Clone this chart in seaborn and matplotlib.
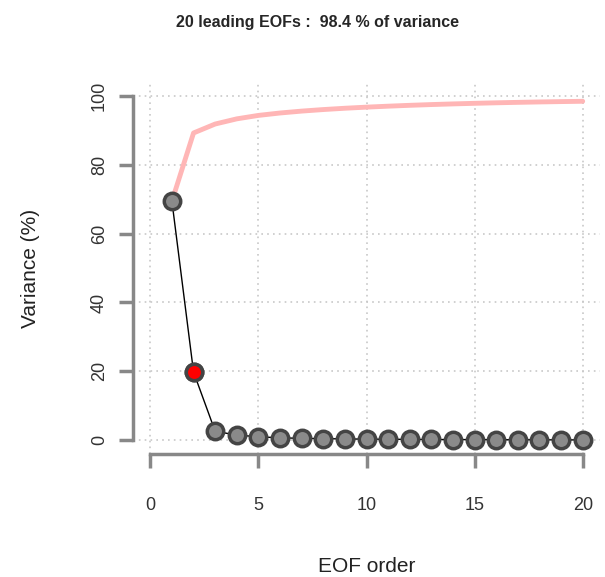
import numpy as np
import pandas as pd
import matplotlib
matplotlib.use('Agg')
import matplotlib.pyplot as plt
import seaborn as sns

# EOF explained variance (%)
eof_order = list(range(1, 21))
variance = [69.4, 19.8, 2.6, 1.5, 1.0, 0.7, 0.55, 0.45, 0.38, 0.32,
            0.28, 0.25, 0.22, 0.19, 0.17, 0.15, 0.13, 0.12, 0.10, 0.09]
highlight = 2
title = '20 leading EOFs :  98.4 % of variance'

df = pd.DataFrame({'eof': eof_order, 'var': variance})
df['cum'] = df['var'].cumsum()

sns.set_style('white')
plt.rcParams['font.family'] = ['Liberation Sans', 'DejaVu Sans']

fig = plt.figure(figsize=(6.05, 5.77), dpi=100)
ax = fig.add_axes([133/605, 1 - 454/577, (600 - 133)/605, (454 - 82)/577])

# grid
for gx in [0, 5, 10, 15, 20]:
    ax.axvline(gx, color='#c8c8c8', lw=1.2, ls=(0, (1, 2.5)), zorder=0)
for gy in [0, 20, 40, 60, 80, 100]:
    ax.axhline(gy, color='#c8c8c8', lw=1.2, ls=(0, (1, 2.5)), zorder=0)

# cumulative variance
sns.lineplot(data=df, x='eof', y='cum', ax=ax, color='#ffb6b6', lw=3.5, zorder=2)
# explained variance
sns.lineplot(data=df, x='eof', y='var', ax=ax, color='black', lw=1, zorder=3)
sns.scatterplot(data=df, x='eof', y='var', ax=ax, s=140, color='#8a8a8a',
                edgecolor='#444444', linewidth=2.5, zorder=4)
sub = df[df['eof'] == highlight]
sns.scatterplot(data=sub, x='eof', y='var', ax=ax, s=140, color='#ff0000',
                edgecolor='#444444', linewidth=2.5, zorder=5)

ax.set_xlim(-0.8, 20.8)
ax.set_ylim(-4, 104)
ax.set_xticks([0, 5, 10, 15, 20])
ax.set_yticks([0, 20, 40, 60, 80, 100])
ax.set_yticklabels(['0', '20', '40', '60', '80', '100'], rotation=90, va='center')

for s in ['top', 'right']:
    ax.spines[s].set_visible(False)
ax.spines['left'].set_bounds(0, 100)
ax.spines['bottom'].set_bounds(0, 20)
for s in ['left', 'bottom']:
    ax.spines[s].set_color('#888888')
    ax.spines[s].set_linewidth(2.5)
ax.tick_params(axis='both', direction='out', length=10, width=2.5,
               bottom=True, left=True,
               color='#888888', labelsize=13, labelcolor='#333333')
ax.tick_params(axis='x', pad=21)
ax.tick_params(axis='y', pad=8)

ax.set_xlabel('EOF order', fontsize=15, labelpad=31, color='#222222')
ax.set_ylabel('Variance (%)', fontsize=15, labelpad=37, color='#222222')
fig.text(317/605, 1 - 22/577, title, ha='center', va='center',
         fontsize=11.5, fontweight='bold')

fig.savefig('out.png', dpi=100)
